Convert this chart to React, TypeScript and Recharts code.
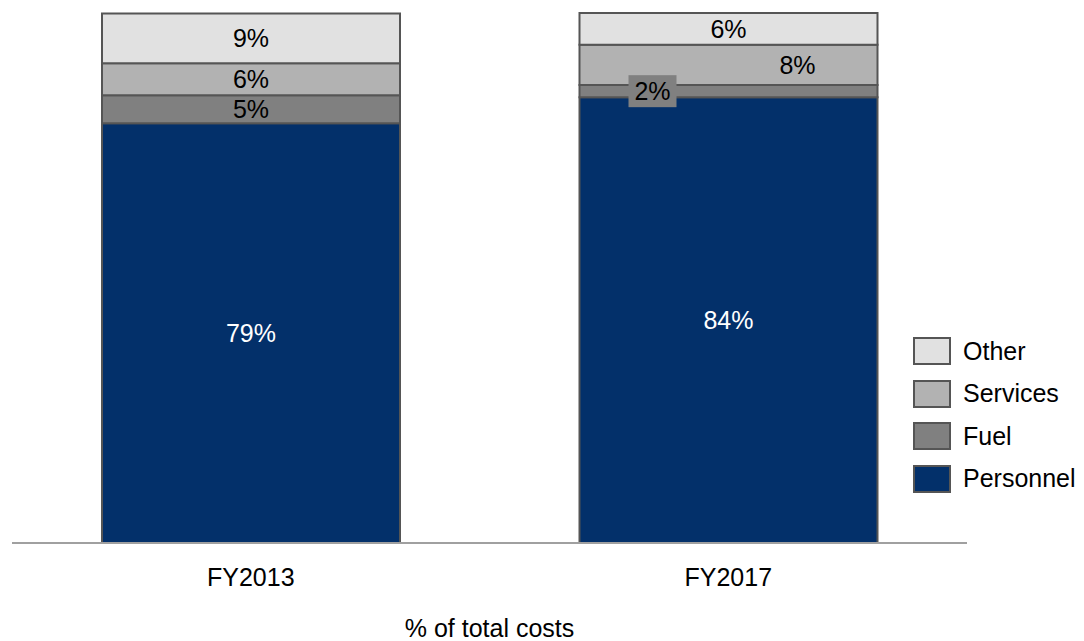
import { Bar, BarChart, LabelList, XAxis, YAxis } from "recharts";

const categories = ["FY2013", "FY2017"];
const personnel = [79.2, 84.1];
const fuel = [5.3, 2.3];
const services = [6.0, 7.6];
const other = [9.4, 6.0];

const data = categories.map((name, i) => ({
  name,
  Personnel: personnel[i],
  Fuel: fuel[i],
  Services: services[i],
  Other: other[i],
}));

const FONT = "'Liberation Sans', Arial, sans-serif";
const EDGE = "#555555";
const FS = 25;

const series = [
  { key: "Personnel", fill: "#03306A", text: "#ffffff" },
  { key: "Fuel", fill: "#808080", text: "#000000" },
  { key: "Services", fill: "#B2B2B2", text: "#000000" },
  { key: "Other", fill: "#E1E1E1", text: "#000000" },
];

// per-label nudges, [FY2013, FY2017]
const labelShift: Record<string, number[]> = {
  Personnel: [0, 0],
  Fuel: [0, -76],
  Services: [0, 69],
  Other: [0, 0],
};

const makeLabel = (key: string, color: string) => (props: any) => {
  const { x, y, width, height, value, index } = props;
  const cx = x + width / 2 + labelShift[key][index];
  const cy = y + height / 2;
  const txt = `${Math.round(value)}%`;
  const boxed = key === "Fuel" && index === 1;
  return (
    <g>
      {boxed && <rect x={cx - 24} y={cy - 16} width={48} height={32} fill="#808080" />}
      <text
        x={cx}
        y={cy}
        textAnchor="middle"
        dominantBaseline="central"
        fontSize={FS}
        fontFamily={FONT}
        fill={color}
      >
        {txt}
      </text>
    </g>
  );
};

const XTick = (props: any) => {
  const { x, y, payload } = props;
  return (
    <text x={x} y={y + 34} textAnchor="middle" dominantBaseline="central" fontSize={FS} fontFamily={FONT} fill="#000">
      {payload.value}
    </text>
  );
};

const AxisTitle = (props: any) => {
  const vb = props.viewBox;
  return (
    <text
      x={vb.x + vb.width / 2}
      y={vb.y + 85}
      textAnchor="middle"
      dominantBaseline="central"
      fontSize={FS}
      fontFamily={FONT}
      fill="#000"
    >
      % of total costs
    </text>
  );
};

const LegendBox = () => (
  <div style={{ position: "absolute", left: 913, top: 330, fontFamily: FONT, fontSize: FS }}>
    {[...series].reverse().map((s) => (
      <div key={s.key} style={{ display: "flex", alignItems: "center", height: 42.5 }}>
        <div
          style={{
            width: 34,
            height: 24,
            background: s.fill,
            border: `2px solid ${EDGE}`,
            marginRight: 12,
          }}
        />
        <span>{s.key}</span>
      </div>
    ))}
  </div>
);

export default function App() {
  return (
    <div style={{ position: "absolute", left: 0, top: 0, width: 1084, height: 641, background: "#fff" }}>
      <BarChart
        width={1084}
        height={641}
        data={data}
        margin={{ top: 13, right: 117, left: 12, bottom: 0 }}
      >
        <XAxis
          dataKey="name"
          height={98}
          axisLine={{ stroke: "#A0A0A0", strokeWidth: 2 }}
          tickLine={false}
          tickSize={0}
          tickMargin={0}
          tick={<XTick />}
          label={{ content: <AxisTitle /> }}
        />
        <YAxis hide domain={[0, 100]} />
        {series.map((s) => (
          <Bar
            key={s.key}
            dataKey={s.key}
            stackId="a"
            fill={s.fill}
            stroke={EDGE}
            strokeWidth={2}
            barSize={298}
            isAnimationActive={false}
          >
            <LabelList dataKey={s.key} content={makeLabel(s.key, s.text)} />
          </Bar>
        ))}
      </BarChart>
      <LegendBox />
    </div>
  );
}
